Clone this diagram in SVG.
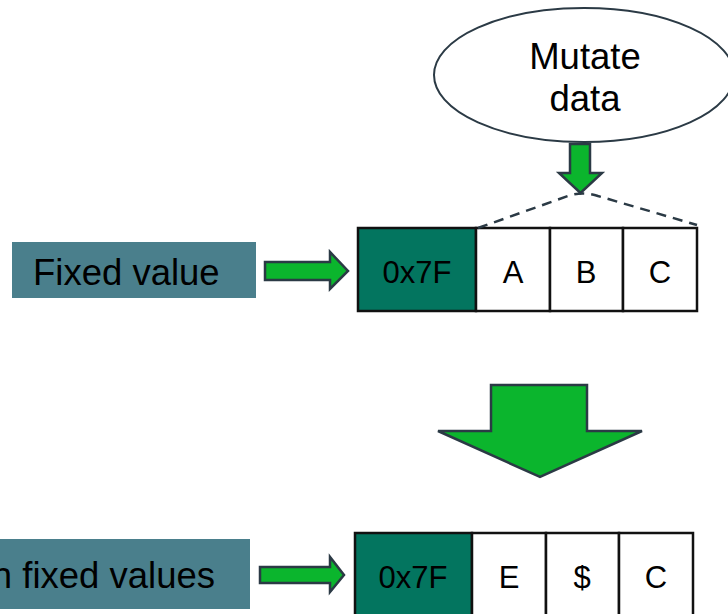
<svg xmlns="http://www.w3.org/2000/svg" width="728" height="614" viewBox="0 0 728 614">
<style>
text{font-family:"Liberation Sans",Arial,sans-serif;fill:#000}
.lbl{fill:#4A7F8C}
.big{font-size:36.5px}
.cell{font-size:31px;text-anchor:middle}
.teal{fill:#03755F;stroke:#111;stroke-width:2.5}
.white{fill:#fff;stroke:#111;stroke-width:2.5}
.arrow{fill:#0BB52D;stroke:#2B3A45;stroke-width:2.5;stroke-linejoin:miter}
</style>
<rect width="728" height="614" fill="#fff"/>
<g id="mutate">
<ellipse cx="584" cy="75" rx="150" ry="67" fill="#fff" stroke="#2B3A45" stroke-width="2"/>
<text class="big" x="585" y="69" text-anchor="middle">Mutate</text>
<text class="big" x="585" y="111" text-anchor="middle">data</text>
</g>
<g id="fixed-value">
<rect class="lbl" x="12" y="242" width="244" height="56"/>
<text class="big" x="33" y="285">Fixed value</text>
</g>
<g id="row1">
<rect class="teal" x="358" y="228" width="118" height="83"/>
<rect class="white" x="476" y="228" width="74" height="83"/>
<rect class="white" x="550" y="228" width="73" height="83"/>
<rect class="white" x="623" y="228" width="74" height="83"/>
<text class="cell" x="417" y="283">0x7F</text>
<text class="cell" x="513" y="283">A</text>
<text class="cell" x="586" y="283">B</text>
<text class="cell" x="660" y="283">C</text>
</g>
<g id="random-fixed-values">
<rect class="lbl" x="-5" y="539" width="255" height="70"/>
<text class="big" x="215" y="588" text-anchor="end">n fixed values</text>
</g>
<g id="row2">
<rect class="teal" x="355" y="533" width="117" height="90"/>
<rect class="white" x="472" y="533" width="74" height="90"/>
<rect class="white" x="546" y="533" width="73" height="90"/>
<rect class="white" x="619" y="533" width="74" height="90"/>
<text class="cell" x="413" y="588">0x7F</text>
<text class="cell" x="509" y="588">E</text>
<text class="cell" x="582" y="588">$</text>
<text class="cell" x="656" y="588">C</text>
</g>
<g id="connectors">
<path class="arrow" d="M570,144 H590 V173 H602 L580.5,193 L559,173 H570 Z"/>
<path d="M478,228 L568,196 Q583,191 598,196 L697,225" fill="none" stroke="#2B3A45" stroke-width="2.5" stroke-dasharray="10,7"/>
<path class="arrow" d="M265,262 H330 V252 L348,271 L330,289 V280 H265 Z"/>
<path class="arrow" d="M491,385 H587 V431 H642 L540,477 L438,431 H491 Z"/>
<path class="arrow" d="M260,567 H330 V557 L344,575 L330,592 V583 H260 Z"/>
</g>
</svg>
